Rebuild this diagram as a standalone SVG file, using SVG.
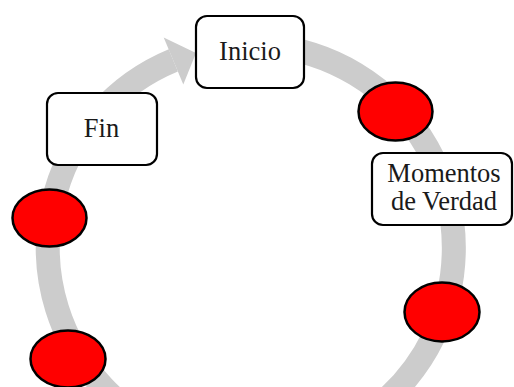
<svg xmlns="http://www.w3.org/2000/svg" width="514" height="387" viewBox="0 0 514 387">
  <style>
    .ring { fill: none; stroke: #cccccc; stroke-width: 24; }
    .head { fill: #cccccc; }
    .box { fill: #ffffff; stroke: #000000; stroke-width: 2.2; }
    .dot { fill: #ff0000; stroke: #000000; stroke-width: 2.5; }
    .lbl { font-family: "Liberation Serif", "Times New Roman", serif; font-size: 26.5px; fill: #1a1a1a; text-anchor: middle; }
  </style>
  <rect width="514" height="387" fill="#ffffff"/>

  <!-- circular flow arrow: clockwise from the top, ending with a head beside "Inicio" -->
  <g id="connectors">
    <path class="ring" d="M 268.7 45.8 A 203 203 0 1 1 173.3 60.4"/>
    <polygon class="head" points="163.7,37.4 196,53 183.3,84.5"/>
  </g>

  <g id="inicio">
    <rect class="box" x="196" y="16" width="108" height="72" rx="11"/>
    <text class="lbl" x="250" y="60">Inicio</text>
  </g>

  <g id="fin">
    <rect class="box" x="47" y="93" width="110" height="72" rx="11"/>
    <text class="lbl" x="101.5" y="137">Fin</text>
  </g>

  <g id="momentos">
    <rect class="box" x="372" y="153" width="140" height="72" rx="11"/>
    <text class="lbl" x="444" y="181.5">Momentos</text>
    <text class="lbl" x="444" y="210">de Verdad</text>
  </g>

  <g id="momento-1"><ellipse class="dot" cx="395.5" cy="111.5" rx="37" ry="29"/></g>
  <g id="momento-2"><ellipse class="dot" cx="442" cy="312" rx="37.5" ry="29.5"/></g>
  <g id="momento-3"><ellipse class="dot" cx="68" cy="359" rx="37.5" ry="28.5"/></g>
  <g id="momento-4"><ellipse class="dot" cx="49.5" cy="218" rx="37" ry="28.5"/></g>
</svg>
